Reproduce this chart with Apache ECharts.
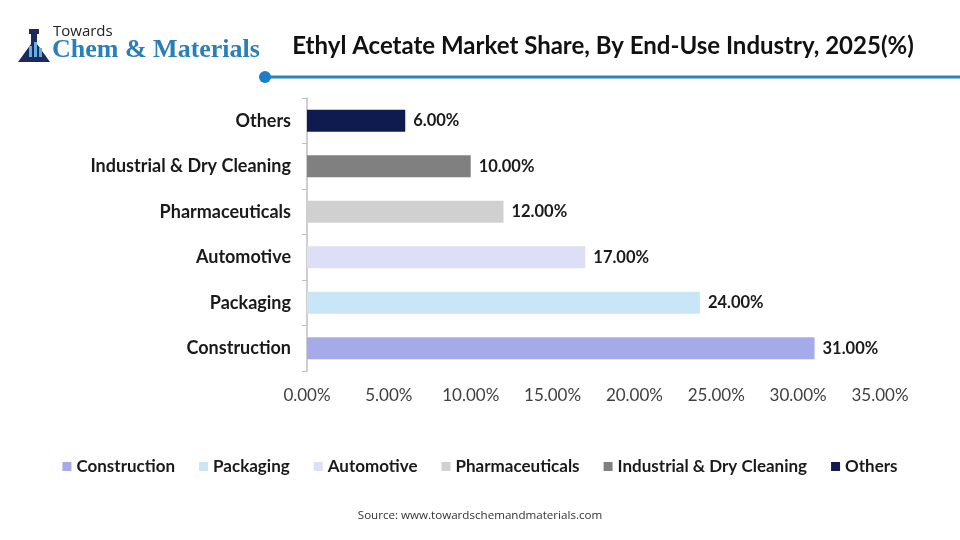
<!DOCTYPE html>
<html>
<head>
<meta charset="utf-8">
<script src="https://cdn.jsdelivr.net/npm/echarts@6/dist/echarts.min.js"></script>
<style>
  html, body { margin: 0; padding: 0; background: #fff; }
  #chart { width: 960px; height: 540px; }
</style>
</head>
<body>
<div id="chart"></div>
<script>
// data, bottom-to-top order on the axis
const categories = ['Construction', 'Packaging', 'Automotive', 'Pharmaceuticals', 'Industrial & Dry Cleaning', 'Others'];
const shares = [31, 24, 17, 12, 10, 6];
const barColors = ['#a4abe8', '#c9e6f7', '#dcdff5', '#d0d0d0', '#808080', '#0f1a4f'];
const xTicks = [0, 5, 10, 15, 20, 25, 30, 35];

const FONT = 'Lato, "Open Sans", sans-serif';

const chart = echarts.init(document.getElementById('chart'));

// one series per category so the legend gets its own colour swatch
const series = categories.map((name, i) => ({
  name: name,
  type: 'bar',
  stack: 'share',
  barWidth: 22,
  itemStyle: { color: barColors[i] },
  label: {
    show: true,
    position: 'right',
    distance: 8,
    fontFamily: FONT,
    fontSize: 16.5,
    fontWeight: 'bold',
    color: '#1a1a1a',
    formatter: p => p.value.toFixed(2) + '%'
  },
  data: categories.map((c, j) => (j === i ? shares[i] : '-'))
}));

chart.setOption({
  animation: false,
  title: {
    text: 'Ethyl Acetate Market Share, By End-Use Industry, 2025(%)',
    left: 598,
    textAlign: 'center',
    top: 29,
    textStyle: { fontFamily: FONT, fontSize: 24, fontWeight: 'bold', color: '#111' }
  },
  grid: { left: 307, right: 80, top: 98, bottom: 169 },
  xAxis: {
    type: 'value',
    min: xTicks[0],
    max: xTicks[xTicks.length - 1],
    interval: 5,
    splitLine: { show: false },
    axisLine: { show: false },
    axisTick: { show: false },
    axisLabel: {
      margin: 16,
      fontFamily: FONT,
      fontSize: 17,
      color: '#404040',
      formatter: v => v.toFixed(2) + '%'
    }
  },
  yAxis: {
    type: 'category',
    data: categories,
    axisLine: { show: true, lineStyle: { color: '#bfbfbf', width: 1.5 } },
    axisTick: { show: true, length: 5, lineStyle: { color: '#bfbfbf' } },
    axisLabel: {
      margin: 16,
      fontFamily: FONT,
      fontSize: 18,
      fontWeight: 'bold',
      color: '#1a1a1a'
    }
  },
  legend: {
    data: categories,
    left: 'center',
    top: 453,
    icon: 'rect',
    itemWidth: 9,
    itemHeight: 9,
    itemGap: 24,
    textStyle: { fontFamily: FONT, fontSize: 17, fontWeight: 'bold', color: '#1a1a1a', padding: [0, 0, 0, 0] }
  },
  graphic: [
    // header divider line with dot
    { type: 'line', shape: { x1: 265, y1: 77, x2: 960, y2: 77 }, style: { stroke: '#2a86b0', lineWidth: 3 } },
    { type: 'circle', shape: { cx: 265, cy: 77, r: 6 }, style: { fill: '#1a7fc8' } },
    // logo
    { type: 'polygon', shape: { points: [[31, 33], [37, 33], [37, 44], [50, 62], [18, 62], [31, 44]] }, style: { fill: '#1b2a5a' } },
    { type: 'rect', shape: { x: 29, y: 29, width: 10, height: 5 }, style: { fill: '#1b2a5a' } },
    { type: 'rect', shape: { x: 29, y: 46, width: 3, height: 11 }, style: { fill: '#5fb0e6' } },
    { type: 'rect', shape: { x: 34, y: 42, width: 3, height: 15 }, style: { fill: '#5fb0e6' } },
    { type: 'rect', shape: { x: 39, y: 48, width: 3, height: 9 }, style: { fill: '#5fb0e6' } },
    { type: 'text', x: 53, y: 24, style: { text: 'Towards', font: '15px "Open Sans", sans-serif', fill: '#222' } },
    { type: 'text', x: 52, y: 37, style: { text: 'Chem & Materials', font: 'bold 26px "Liberation Serif", serif', fill: '#2a7fb8' } },
    // source
    { type: 'text', x: 480, y: 510, style: { text: 'Source: www.towardschemandmaterials.com', font: '11.6px "Open Sans", sans-serif', fill: '#333', align: 'center' } }
  ],
  series: series
});
</script>
</body>
</html>
